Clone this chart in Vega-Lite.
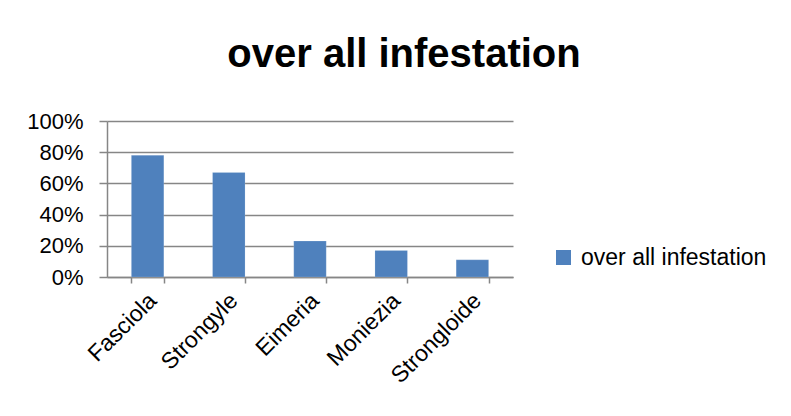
{
  "$schema": "https://vega.github.io/schema/vega-lite/v6.json",
  "width": 406,
  "height": 156,
  "autosize": {"type": "none"},
  "padding": {"left": 107, "top": 121, "right": 278, "bottom": 139},
  "background": "white",
  "title": {
    "text": "over all infestation",
    "font": "Liberation Sans",
    "fontSize": 40,
    "fontWeight": "bold",
    "color": "#000000",
    "anchor": "middle",
    "frame": "group",
    "dx": 94,
    "offset": 35
  },
  "data": {
    "values": [
      {"parasite": "Fasciola", "rate": 0.78, "series": "over all infestation"},
      {"parasite": "Strongyle", "rate": 0.67, "series": "over all infestation"},
      {"parasite": "Eimeria", "rate": 0.23, "series": "over all infestation"},
      {"parasite": "Moniezia", "rate": 0.17, "series": "over all infestation"},
      {"parasite": "Strongloide", "rate": 0.11, "series": "over all infestation"}
    ]
  },
  "mark": {"type": "bar", "stroke": "#ffffff", "strokeOpacity": 0.3, "strokeWidth": 0.5},
  "encoding": {
    "x": {
      "field": "parasite",
      "type": "nominal",
      "sort": null,
      "scale": {"paddingInner": 0.6, "paddingOuter": 0.3},
      "axis": {
        "title": null,
        "labelAngle": -45,
        "labelAlign": "right",
        "labelBaseline": "top",
        "labelFont": "Liberation Sans",
        "labelFontSize": 23,
        "labelColor": "#000000",
        "labelPadding": 6,
        "labelOffset": -3,
        "labelLimit": 0,
        "tickBand": "extent",
        "tickSize": 6,
        "tickColor": "#868686",
        "domainColor": "#868686",
        "domainWidth": 1.5,
        "tickWidth": 1.5,
        "grid": false
      }
    },
    "y": {
      "field": "rate",
      "type": "quantitative",
      "scale": {"domain": [0, 1], "nice": false},
      "axis": {
        "title": null,
        "values": [0, 0.2, 0.4, 0.6, 0.8, 1],
        "format": ".0%",
        "labelFont": "Liberation Sans",
        "labelFontSize": 22,
        "labelColor": "#000000",
        "labelPadding": 16,
        "tickSize": 8,
        "tickColor": "#868686",
        "tickWidth": 1.5,
        "domainColor": "#868686",
        "domainWidth": 1.5,
        "grid": true,
        "gridColor": "#868686",
        "gridWidth": 1.5
      }
    },
    "color": {
      "field": "series",
      "type": "nominal",
      "scale": {"range": ["#4F81BD"]},
      "legend": {
        "title": null,
        "orient": "none",
        "legendX": 445,
        "legendY": 125,
        "padding": 0,
        "symbolType": "square",
        "symbolSize": 225,
        "symbolStrokeWidth": 0,
        "labelFont": "Liberation Sans",
        "labelFontSize": 23,
        "labelColor": "#000000",
        "labelOffset": 6,
        "labelLimit": 0
      }
    }
  },
  "config": {"view": {"stroke": null}}
}
